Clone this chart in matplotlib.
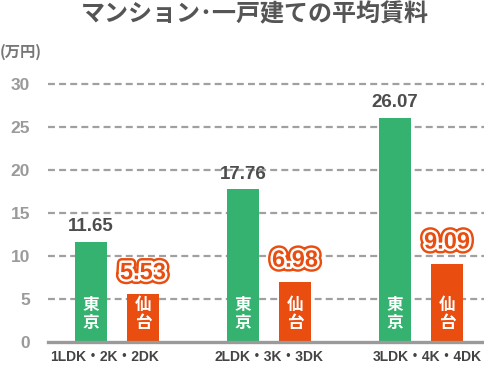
import matplotlib
matplotlib.use("Agg")
import matplotlib.pyplot as plt
import matplotlib.patheffects as pe
import matplotlib.transforms as mtrans
import numpy as np

# data
categories = ['1LDK・2K・2DK', '2LDK・3K・3DK', '3LDK・4K・4DK']
tokyo = [11.65, 17.76, 26.07]
sendai = [5.53, 6.98, 9.09]
series_names = ['東京', '仙台']
yticks = [0, 5, 10, 15, 20, 25, 30]

green = '#35b270'
orange = '#e94d0f'
jp = ['Noto Sans CJK JP', 'DejaVu Sans']
lat = ['Liberation Sans', 'Noto Sans CJK JP']

plt.rcParams['lines.scale_dashes'] = False

fig = plt.figure(figsize=(4.85, 3.65), dpi=100)
ax = fig.add_axes([48 / 485, 23 / 365, 436 / 485, 258 / 365])

x = np.arange(len(categories))
w = 0.21
off = 0.171

ax.bar(x - off, tokyo, w, color=green, zorder=3)
ax.bar(x + off, sendai, w, color=orange, zorder=3)

for xi, v in zip(x, tokyo):
    ax.annotate(f'{v:.2f}', (xi - off, v), xytext=(0, 7.5), textcoords='offset points',
                ha='center', va='baseline', fontsize=13.5, fontweight='bold',
                color='#4d4d4d', family=lat)
    ax.text(xi - off, 3.2, '東\n京', ha='center', va='center', color='white',
            fontsize=12, fontweight='bold', family=jp, linespacing=1.0, zorder=4)

for xi, v in zip(x, sendai):
    ax.annotate(f'{v:.2f}', (xi + off, v), xytext=(0, 11), textcoords='offset points',
                ha='center', va='baseline', fontsize=17, fontweight='bold',
                color=orange, family=lat,
                path_effects=[pe.Stroke(linewidth=7, foreground=orange),
                              pe.Stroke(linewidth=3.5, foreground='white'),
                              pe.Normal()])
    ax.text(xi + off, 3.2, '仙\n台', ha='center', va='center', color='white',
            fontsize=12, fontweight='bold', family=jp, linespacing=1.0, zorder=4)

ax.set_xlim(-0.454, 2.414)
ax.set_ylim(0, 30)

for yv in yticks[1:]:
    ax.axhline(yv, color='#a0a0a0', lw=1.6, dashes=(5, 3), zorder=1, clip_on=False)
ax.axhline(0, color='#9a9a9a', lw=2.4, zorder=5, clip_on=False)

for s in ax.spines.values():
    s.set_visible(False)

ax.set_yticks(yticks)
ax.set_yticklabels([str(t) for t in yticks], family=lat, fontweight='bold',
                   fontsize=12.5, color='#9a9a9a')
ax.tick_params(axis='y', length=0, pad=13)

ax.set_xticks(x)
ax.set_xticklabels(categories, family=lat, fontweight='bold', fontsize=10, color='#444444')
ax.tick_params(axis='x', length=0, pad=6)
shifts = [-12, 0, 6]
for lab, sh in zip(ax.get_xticklabels(), shifts):
    lab.set_transform(lab.get_transform() + mtrans.ScaledTranslation(sh / 100, 0, fig.dpi_scale_trans))

fig.text(255 / 485, 1 - 14 / 365, 'マンション･一戸建ての平均賃料', ha='center', va='center',
         fontsize=17.3, fontweight='bold', color='#555555', family=jp)
fig.text(0, 1 - 52 / 365, '(万円)', ha='left', va='center', fontsize=11,
         fontweight='bold', color='#777777', family=jp)

fig.savefig('out.png', dpi=100)
